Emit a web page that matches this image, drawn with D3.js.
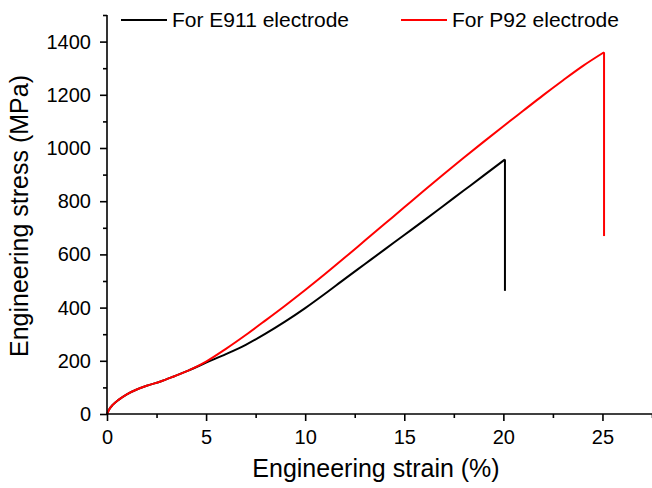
<!DOCTYPE html>
<html>
<head>
<meta charset="utf-8">
<script src="https://cdn.jsdelivr.net/npm/d3@7"></script>
<style>
  html, body { margin: 0; padding: 0; background: #fff; }
  svg { display: block; }
  text { font-family: "Liberation Sans", Arial, sans-serif; fill: #000; }
</style>
</head>
<body>
<svg id="chart" width="652" height="488"></svg>
<script>
// ---- data ----
const e911Strain = [0, 0.1, 0.3, 0.6, 1.0, 1.5, 2.0, 2.7, 3.4, 4.1, 5, 6, 7, 8, 9, 10, 11, 12, 13, 14, 15, 16, 17, 18, 19, 20.08, 20.08];
const e911Stress = [0, 16, 35, 54, 74, 92, 106, 122, 142, 163, 193, 225, 260, 302, 348, 398, 452, 508, 563, 618, 673, 728, 784, 840, 896, 957, 463];

const p92Strain = [0, 0.1, 0.3, 0.6, 1.0, 1.5, 2.0, 2.7, 3.4, 4.1, 5, 6, 7, 8, 9, 10, 11, 12, 13, 14, 15, 16, 17, 18, 19, 20, 21, 22, 23, 24, 25.08, 25.08];
const p92Stress = [0, 16, 35, 54, 74, 92, 106, 122, 142, 163, 197, 245, 297, 352, 408, 466, 526, 588, 651, 714, 777, 840, 902, 963, 1023, 1082, 1140, 1198, 1254, 1308, 1360, 669];

const xTicks = [0, 5, 10, 15, 20, 25];
const yTicks = [0, 200, 400, 600, 800, 1000, 1200, 1400];
const seriesNames = ["For E911 electrode", "For P92 electrode"];
const seriesColors = ["#000000", "#ff0000"];

// ---- chart ----
const svg = d3.select("#chart");
const x = d3.scaleLinear().domain([0, 27.5]).range([107, 652]);
const y = d3.scaleLinear().domain([0, 1500]).range([414, 15]);

const series = [
  { name: seriesNames[0], color: seriesColors[0], pts: e911Strain.map((s, i) => [s, e911Stress[i]]) },
  { name: seriesNames[1], color: seriesColors[1], pts: p92Strain.map((s, i) => [s, p92Stress[i]]) }
];

const line = d3.line().x(d => x(d[0])).y(d => y(d[1])).curve(d3.curveMonotoneX);
const lineRaw = d3.line().x(d => x(d[0])).y(d => y(d[1]));

series.forEach(s => {
  const n = s.pts.length;
  const rise = s.pts.slice(0, n - 1);
  const drop = s.pts.slice(n - 2);
  svg.append("path").attr("d", line(rise)).attr("fill", "none")
    .attr("stroke", s.color).attr("stroke-width", 2).attr("stroke-linejoin", "round");
  svg.append("path").attr("d", lineRaw(drop)).attr("fill", "none")
    .attr("stroke", s.color).attr("stroke-width", 2);
});

// axes
const xAxis = d3.axisBottom(x).tickValues(xTicks).tickSize(7).tickPadding(9).tickFormat(d3.format("d"));
const xMinor = d3.axisBottom(x).tickValues([2.5, 7.5, 12.5, 17.5, 22.5, 27.5]).tickSize(4).tickFormat("");
const yAxis = d3.axisLeft(y).tickValues(yTicks).tickSize(7).tickPadding(9).tickFormat(d3.format("d"));
const yMinor = d3.axisLeft(y).tickValues(d3.range(100, 1501, 200)).tickSize(4).tickFormat("");

function styleAxis(g) {
  g.select(".domain").attr("stroke", "#000").attr("stroke-width", 1.6);
  g.selectAll(".tick line").attr("stroke", "#000").attr("stroke-width", 1.6);
  g.selectAll(".tick text").attr("font-size", 20).attr("font-family", "Liberation Sans, Arial, sans-serif").attr("fill", "#000");
}

svg.append("g").attr("transform", "translate(0,414)").call(xMinor).call(styleAxis).select(".domain").remove();
svg.append("g").attr("transform", "translate(0,414)").call(xAxis).call(styleAxis)
  .select(".domain").attr("d", "M107,0H652");
svg.append("g").attr("transform", "translate(107,0)").call(yMinor).call(styleAxis).select(".domain").remove();
svg.append("g").attr("transform", "translate(107,0)").call(yAxis).call(styleAxis)
  .select(".domain").attr("d", "M0,414V15");

// axis titles
svg.append("text").attr("x", 376).attr("y", 477).attr("text-anchor", "middle")
  .attr("font-size", 25).text("Engineering strain (%)");
svg.append("text").attr("transform", "translate(28,216) rotate(-90)").attr("text-anchor", "middle")
  .attr("font-size", 25).text("Engineering stress (MPa)");

// legend
const legX = [121, 401];
series.forEach((s, i) => {
  const g = svg.append("g").attr("transform", `translate(${legX[i]},20)`);
  g.append("line").attr("x1", 0).attr("x2", 46).attr("y1", 0).attr("y2", 0)
    .attr("stroke", s.color).attr("stroke-width", 2);
  g.append("text").attr("x", 51).attr("y", 0).attr("dy", "0.35em")
    .attr("font-size", 21).text(s.name);
});
</script>
</body>
</html>
